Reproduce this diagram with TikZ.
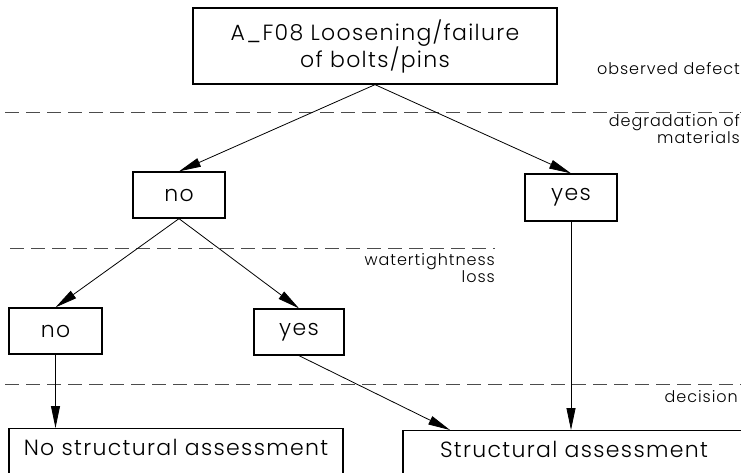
\documentclass[tikz,border=0pt]{standalone}
\usepackage{fontspec}
\setmainfont{Poppins}[UprightFont=* Light, LetterSpace=6]
\usetikzlibrary{arrows.meta}

\begin{document}
\begin{tikzpicture}[x=1pt, y=-1pt,
    >={Stealth[length=22pt, width=9pt, inset=0pt]},
    box/.style={draw, line width=1.3pt, inner sep=0pt, align=center, font=\fontsize{22}{27}\selectfont},
    stage/.style={inner sep=0pt, align=right, font=\fontsize{16}{14}\selectfont},
    level/.style={dashed, dash pattern=on 14pt off 7pt, line width=0.7pt, black!70},
    flow/.style={line width=0.8pt, ->}]
    \useasboundingbox (0,0) rectangle (741,472);
    \clip (0,0) rectangle (741,472);
    % stage separators
    \draw[level] (5,112) -- (741,112);
    \draw[level] (10,248) -- (495,248);
    \draw[level] (5,384) -- (741,384);
    \node[stage, anchor=east] (sdefect) at (740,69) {observed defect};
    \node[stage, anchor=north east] (sdegr) at (740,114) {degradation of\\materials};
    \node[stage, anchor=north east] (swater) at (495,253) {watertightness\\loss};
    \node[stage, anchor=east] (sdec) at (738,397) {decision};
    % boxes
    \node[box, minimum width=364, minimum height=76] (defect) at (375,46) {A\_F08 Loosening/failure\\of bolts/pins};
    \node[box, minimum width=92, minimum height=46] (degrno) at (179,195) {no};
    \node[box, minimum width=92, minimum height=47] (degryes) at (571,197.5) {yes};
    \node[box, minimum width=93, minimum height=46] (waterno) at (55.5,331) {no};
    \node[box, minimum width=90, minimum height=46] (wateryes) at (299,332) {yes};
    \node[box, anchor=north, minimum width=334, text height=27pt, text depth=30pt] (noassess) at (176,428) {No structural assessment};
    \node[box, anchor=north, minimum width=342, text height=27pt, text depth=30pt] (assess) at (574,430) {Structural assessment};
    \coordinate (assessin) at (450,430);
    % connectors
    \draw[flow] (defect.south) -- (degrno.north);
    \draw[flow] (defect.south) -- (degryes.north);
    \draw[flow] (degrno.south) -- (waterno.north);
    \draw[flow] (degrno.south) -- (wateryes.north);
    \draw[flow] (waterno.south) -- (waterno.south |- noassess.north);
    \draw[flow] (wateryes.south) -- (assessin);
    \draw[flow] (degryes.south) -- (degryes.south |- assess.north);
\end{tikzpicture}
\end{document}
